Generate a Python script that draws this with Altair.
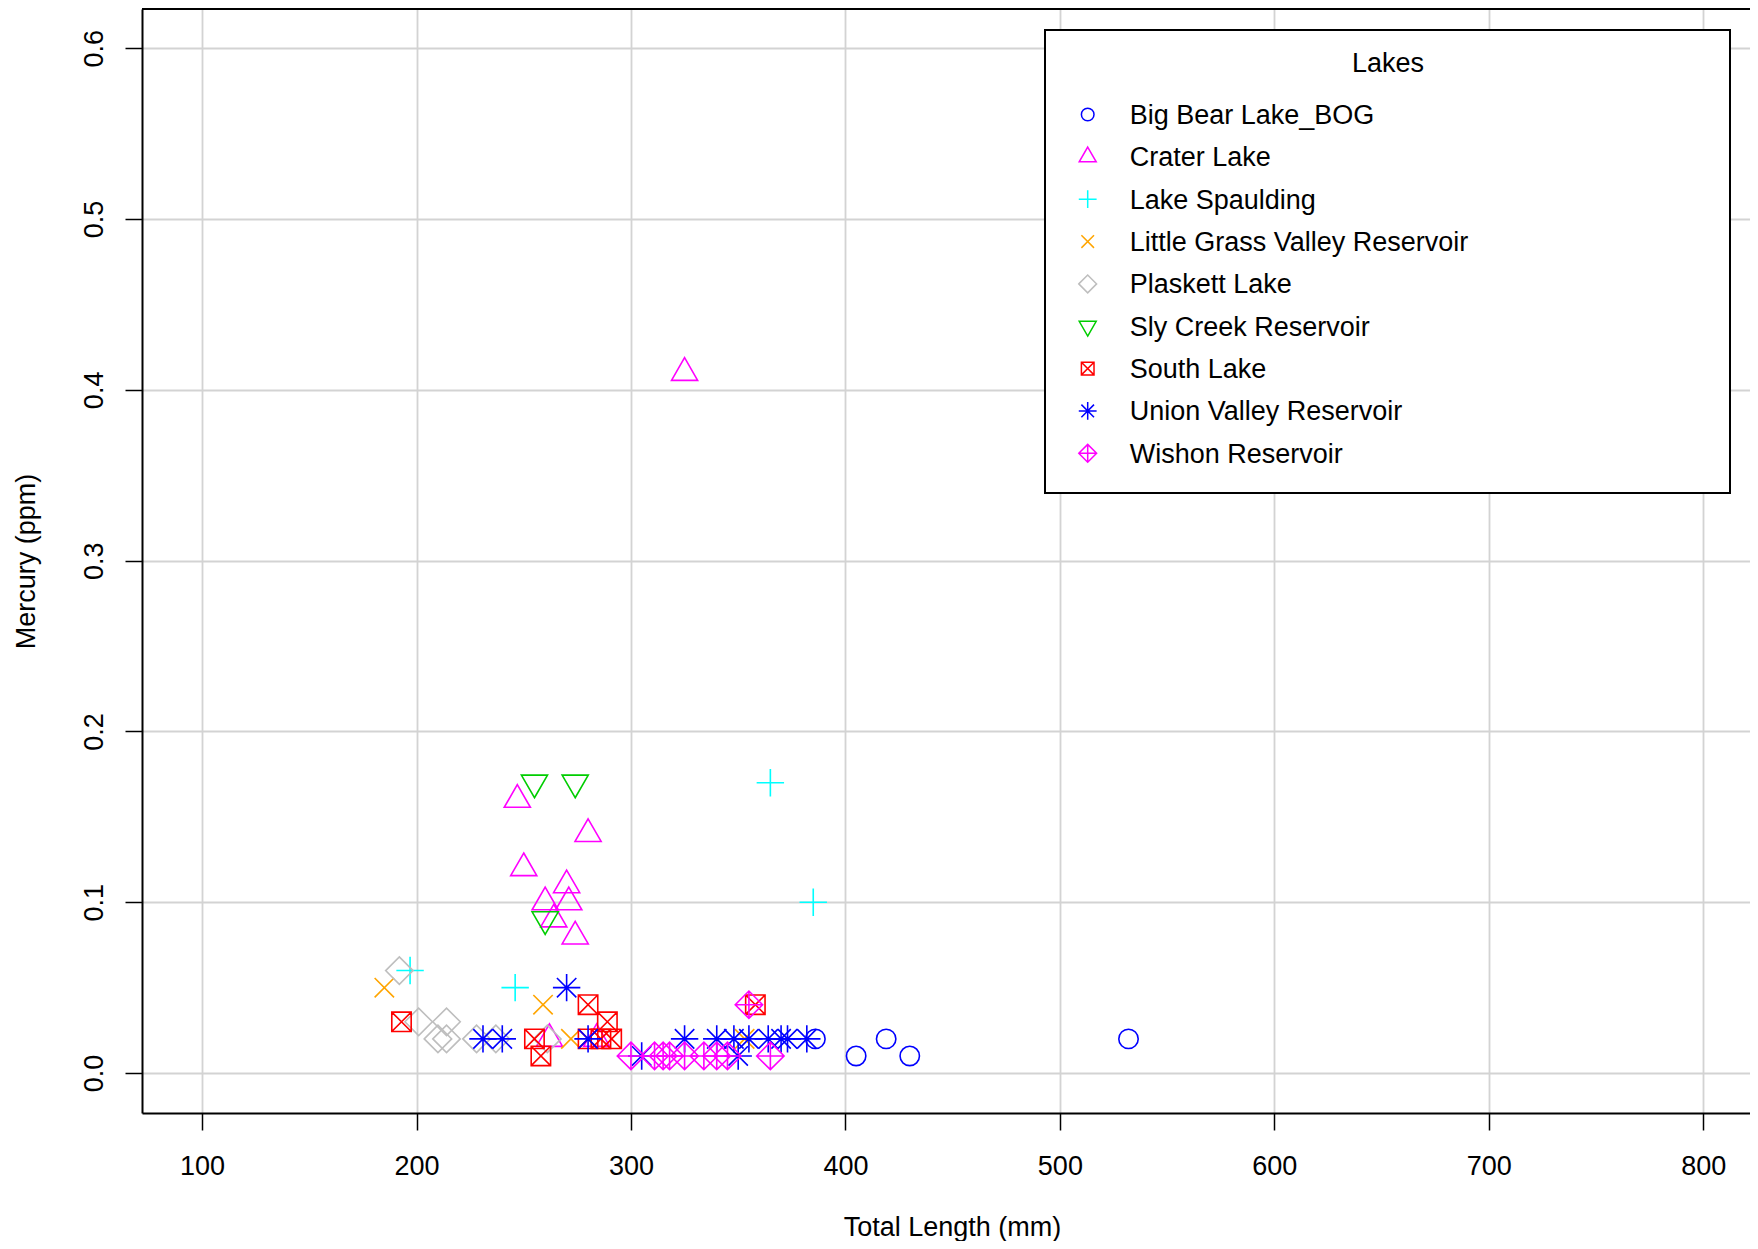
import altair as alt
import pandas as pd

FONT = "Liberation Sans"

lakes = ["Big Bear Lake_BOG", "Crater Lake", "Lake Spaulding",
         "Little Grass Valley Reservoir", "Plaskett Lake", "Sly Creek Reservoir",
         "South Lake", "Union Valley Reservoir", "Wishon Reservoir"]
colors = ["#0000FF", "#FF00FF", "#00FFFF", "#FFA500", "#BEBEBE",
          "#00CD00", "#FF0000", "#0000FF", "#FF00FF"]
# R pch 1..9 glyphs as unit paths
shapes = [
    "circle",
    "M0,-1.555L1.347,0.778L-1.347,0.778Z",
    "M-1.414,0L1.414,0M0,-1.414L0,1.414",
    "M-1,-1L1,1M-1,1L1,-1",
    "M-1.414,0L0,-1.414L1.414,0L0,1.414Z",
    "M0,1.555L1.347,-0.778L-1.347,-0.778Z",
    "M-1,-1L1,-1L1,1L-1,1ZM-1,-1L1,1M-1,1L1,-1",
    "M-1,-1L1,1M-1,1L1,-1M-1.414,0L1.414,0M0,-1.414L0,1.414",
    "M-1.414,0L0,-1.414L1.414,0L0,1.414ZM-1.414,0L1.414,0M0,-1.414L0,1.414",
]

big_bear_len = [386, 405, 419, 430, 532]
big_bear_hg = [0.02, 0.01, 0.02, 0.01, 0.02]
crater_len = [247, 250, 280, 270, 260, 271, 264, 274, 325, 262, 284]
crater_hg = [0.16, 0.12, 0.14, 0.11, 0.10, 0.10, 0.09, 0.08, 0.41, 0.02, 0.02]
spaulding_len = [197, 246, 365, 385]
spaulding_hg = [0.06, 0.05, 0.17, 0.10]
lgv_len = [185, 259, 272, 353]
lgv_hg = [0.05, 0.04, 0.02, 0.02]
plaskett_len = [192, 201, 214, 210, 214, 228, 237, 261]
plaskett_hg = [0.06, 0.03, 0.03, 0.02, 0.02, 0.02, 0.02, 0.02]
sly_len = [255, 274, 260]
sly_hg = [0.17, 0.17, 0.09]
south_len = [193, 255, 258, 280, 289, 280, 286, 291, 358]
south_hg = [0.03, 0.02, 0.01, 0.04, 0.03, 0.02, 0.02, 0.02, 0.04]
union_len = [231, 240, 270, 280, 305, 325, 340, 348, 355, 364, 370, 373, 382, 350]
union_hg = [0.02, 0.02, 0.05, 0.02, 0.01, 0.02, 0.02, 0.02, 0.02, 0.02, 0.02, 0.02, 0.02, 0.01]
wishon_len = [300, 311, 315, 318, 325, 334, 340, 345, 365, 355]
wishon_hg = [0.01, 0.01, 0.01, 0.01, 0.01, 0.01, 0.01, 0.01, 0.01, 0.04]

x_ticks = [100, 200, 300, 400, 500, 600, 700, 800]
y_ticks = [0.0, 0.1, 0.2, 0.3, 0.4, 0.5, 0.6]

series = [
    (lakes[0], big_bear_len, big_bear_hg),
    (lakes[1], crater_len, crater_hg),
    (lakes[2], spaulding_len, spaulding_hg),
    (lakes[3], lgv_len, lgv_hg),
    (lakes[4], plaskett_len, plaskett_hg),
    (lakes[5], sly_len, sly_hg),
    (lakes[6], south_len, south_hg),
    (lakes[7], union_len, union_hg),
    (lakes[8], wishon_len, wishon_hg),
]
rows = []
for name, ls, hs in series:
    for l, h in zip(ls, hs):
        rows.append({"lake": name, "length": l, "hg": h})
df = pd.DataFrame(rows)
legend_df = pd.DataFrame({"lake": lakes})
one = pd.DataFrame({"a": [0]})

W, H = 1608, 1104

shape_scale = alt.Scale(domain=lakes, range=shapes)
color_scale = alt.Scale(domain=lakes, range=colors)

points = alt.Chart(df).mark_point(filled=False, size=376, strokeWidth=1.6, opacity=1).encode(
    x=alt.X("length:Q", scale=alt.Scale(domain=[72, 821.8], nice=False, zero=False),
            axis=alt.Axis(values=x_ticks, format="d", grid=True, gridColor="#D3D3D3", gridWidth=1.8,
                          domainColor="black", domainWidth=2, tickColor="black", tickWidth=1.5,
                          tickSize=17, labelFontSize=27, labelFont=FONT, labelColor="black",
                          labelBaseline="alphabetic", labelPadding=44, labelFlush=False,
                          labelOverlap=False, title="Total Length (mm)", titleFontSize=27,
                          titleFont=FONT, titleFontWeight="normal", titleColor="black",
                          titleBaseline="alphabetic", titleAlign="center", titleX=810, titleY=122)),
    y=alt.Y("hg:Q", scale=alt.Scale(domain=[-0.0234, 0.623], nice=False, zero=False),
            axis=alt.Axis(values=y_ticks, format=".1f", grid=True, gridColor="#D3D3D3", gridWidth=1.8,
                          domainColor="black", domainWidth=2, tickColor="black", tickWidth=1.5,
                          tickSize=17, labelFontSize=27, labelFont=FONT, labelColor="black",
                          labelAngle=270, labelAlign="center", labelBaseline="alphabetic",
                          labelPadding=23, labelFlush=False, labelOverlap=False,
                          title="Mercury (ppm)", titleFontSize=27, titleFont=FONT,
                          titleFontWeight="normal", titleColor="black", titleAngle=270,
                          titleAlign="center", titleBaseline="alphabetic", titleX=-108, titleY=552)),
    shape=alt.Shape("lake:N", scale=shape_scale, legend=None),
    color=alt.Color("lake:N", scale=color_scale, legend=None),
)

legend_box = alt.Chart(one).mark_rect(fill="white", stroke="black", strokeWidth=2).encode(
    x=alt.value(903), x2=alt.value(1588), y=alt.value(21), y2=alt.value(484)
)
legend_title = alt.Chart(one).mark_text(text="Lakes", font=FONT, fontSize=27, color="black",
                                        align="center", baseline="alphabetic").encode(
    x=alt.value(1246), y=alt.value(62.8)
)
leg_y = alt.Y("lake:N", scale=alt.Scale(domain=lakes, range=[105.5, 444.3], padding=0), axis=None)
legend_sym = alt.Chart(legend_df).mark_point(filled=False, size=159, strokeWidth=1.5, opacity=1).encode(
    x=alt.value(945.7), y=leg_y,
    shape=alt.Shape("lake:N", scale=shape_scale, legend=None),
    color=alt.Color("lake:N", scale=color_scale, legend=None),
)
legend_txt = alt.Chart(legend_df).mark_text(font=FONT, fontSize=27, color="black", align="left",
                                            baseline="alphabetic", dy=9.3).encode(
    x=alt.value(987.7), y=leg_y, text="lake:N"
)
top_rule = alt.Chart(one).mark_rule(color="black", strokeWidth=2).encode(
    x=alt.value(0), x2=alt.value(W), y=alt.value(0)
)

chart = alt.layer(points, legend_box, legend_title, legend_sym, legend_txt, top_rule).resolve_scale(
    y="independent"
).properties(
    width=W, height=H,
    padding={"left": 134, "top": 1, "right": 0, "bottom": 128},
    autosize=alt.AutoSizeParams(type="none"),
    background="white",
).configure_view(stroke=None)

chart.save("out.html", embed_options={"renderer": "svg", "actions": False})
